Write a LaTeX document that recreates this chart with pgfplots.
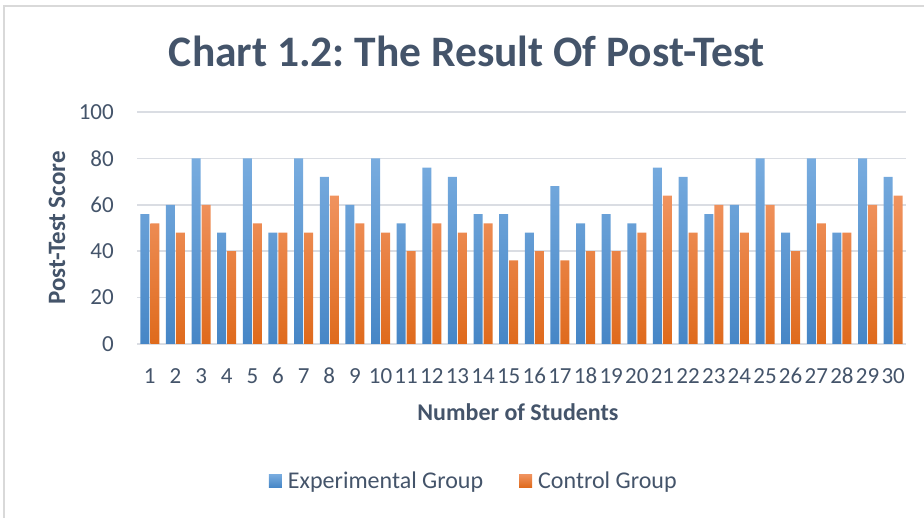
\documentclass[border=0pt]{standalone}
\usepackage{pgfplots}
\pgfplotsset{compat=1.18}
\usepackage{fontspec}
\setmainfont{Carlito}
\frenchspacing
\definecolor{txtc}{HTML}{44546A}
\definecolor{gridc}{HTML}{DADDE3}
\definecolor{framec}{HTML}{D9D9D9}
\definecolor{btop}{HTML}{78ACDF}
\definecolor{bmid}{HTML}{5B9BD5}
\definecolor{bbot}{HTML}{4686C6}
\definecolor{otop}{HTML}{F0935F}
\definecolor{omid}{HTML}{F47F2C}
\definecolor{obot}{HTML}{DF6A1C}
\begin{document}
\begin{tikzpicture}
\useasboundingbox (0pt,0pt) rectangle (924pt,518pt);
\draw[framec, line width=1.2pt] (4pt,-10pt) -- (4pt,512pt) -- (930pt,512pt);
\node[anchor=base, text=txtc, font=\fontsize{43.5}{48}\selectfont\bfseries] at (467pt,451pt) {Chart 1.2: The Result Of Post-Test};
\begin{axis}[
  at={(137pt,174pt)}, anchor=south west,
  scale only axis, width=769pt, height=232pt,
  ybar=1pt, bar width=9pt,
  xmin=0.5, xmax=30.5, ymin=0, ymax=100,
  xtick={1,...,30}, ytick={0,20,...,100},
  axis line style={draw=none},
  major tick length=0pt,
  xmajorgrids=false, ymajorgrids=true,
  major grid style={draw=gridc, line width=1.5pt},
  /pgf/number format/assume math mode=true,
  tick label style={text=txtc, font=\fontsize{23}{26}\selectfont, inner sep=0pt},
  yticklabel style={anchor=east, xshift=-23pt},
  xticklabel style={anchor=base, yshift=-40pt},
  xlabel={Number of Students},
  ylabel={Post-Test Score},
  xlabel style={at={(axis description cs:0.4954,-0.293)}, anchor=center, text=txtc, font=\fontsize{24}{26}\selectfont\bfseries},
  ylabel style={at={(axis description cs:-0.104,0.5)}, anchor=center, rotate=0, text=txtc, font=\fontsize{25}{26}\selectfont\bfseries},
  legend columns=2,
  legend style={at={(axis description cs:0.438,-0.59)}, anchor=center, draw=none, fill=none,
    font=\fontsize{24}{26}\selectfont, text=txtc,
    /tikz/every even column/.append style={column sep=34pt}},
  legend image code/.code={\fill[#1] (0pt,-6.5pt) rectangle (13pt,6.5pt);},
  legend cell align=left,
]
\addplot[draw=none, top color=btop, middle color=bmid, bottom color=bbot] coordinates {
(1,56) (2,60) (3,80) (4,48) (5,80) (6,48) (7,80) (8,72) (9,60) (10,80)
(11,52) (12,76) (13,72) (14,56) (15,56) (16,48) (17,68) (18,52) (19,56) (20,52)
(21,76) (22,72) (23,56) (24,60) (25,80) (26,48) (27,80) (28,48) (29,80) (30,72)};
\addplot[draw=none, top color=otop, middle color=omid, bottom color=obot] coordinates {
(1,52) (2,48) (3,60) (4,40) (5,52) (6,48) (7,48) (8,64) (9,52) (10,48)
(11,40) (12,52) (13,48) (14,52) (15,36) (16,40) (17,36) (18,40) (19,40) (20,48)
(21,64) (22,48) (23,60) (24,48) (25,60) (26,40) (27,52) (28,48) (29,60) (30,64)};
\legend{\hspace{4pt}Experimental Group, \hspace{4pt}Control Group}
\end{axis}
\end{tikzpicture}
\end{document}
